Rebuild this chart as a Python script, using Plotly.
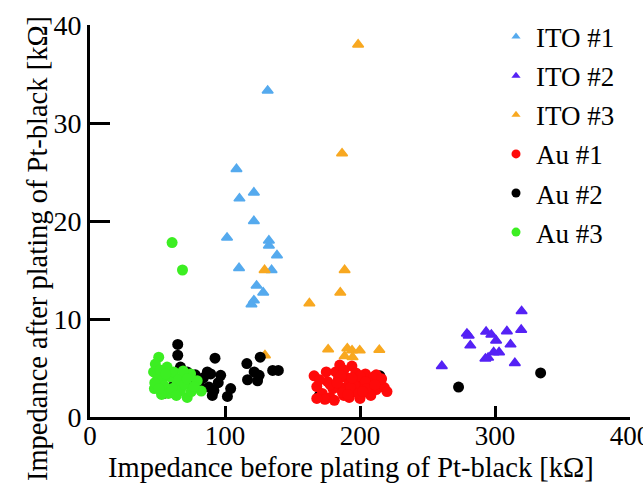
import plotly.graph_objects as go

# ---- data ----
ito1_x = [131.6, 108.5, 121.4, 110.7, 121.4, 101.5, 132.5, 132.5, 138.5, 110.4, 134.5, 123.4, 128.3, 121.4, 119.6]
ito1_y = [33.3, 25.3, 22.9, 22.3, 20.0, 18.3, 18.0, 17.5, 16.5, 15.2, 15.0, 13.4, 12.7, 11.9, 11.5]

ito2_x = [319.7, 280.5, 281.7, 279.2, 293.4, 297.3, 300.8, 308.8, 319.4, 311.5, 299.0, 303.0, 294.9, 292.9, 314.7, 260.6]
ito2_y = [10.8, 8.3, 7.3, 8.5, 8.7, 8.4, 7.8, 8.75, 8.9, 7.4, 6.6, 6.6, 6.05, 5.95, 5.5, 5.2]

ito3_x = [198.6, 186.7, 188.6, 185.4, 162.5, 129.3, 129.6, 176.4, 190.6, 194.1, 199.8, 214.3, 188.6, 194.5]
ito3_y = [38.0, 26.9, 15.0, 12.7, 11.6, 15.0, 6.3, 6.9, 7.0, 6.8, 6.8, 6.85, 6.2, 6.1]

au1_x = [166, 168, 172, 176, 178, 182, 185, 186, 188, 190, 192, 194, 196, 197, 198, 200, 202, 204, 206, 208,
         210, 212, 215, 218, 220, 170, 174, 180, 184, 188, 192, 196, 200, 204, 208, 212, 216, 175, 181, 187,
         193, 199, 205, 211, 178, 186, 194, 202, 168, 183, 191]
au1_y = [4.2, 3.1, 2.4, 3.6, 2.0, 4.6, 5.3, 3.0, 2.2, 4.0, 3.4, 5.2, 2.6, 4.5, 3.8, 1.9, 3.1, 4.4, 2.5, 3.6,
         4.1, 2.8, 3.5, 3.0, 2.6, 3.8, 1.8, 2.9, 3.9, 4.8, 2.0, 3.2, 4.2, 3.6, 2.2, 4.3, 3.9, 4.6, 1.7, 2.5,
         3.0, 2.4, 2.9, 3.3, 3.3, 4.2, 4.0, 2.6, 1.9, 3.5, 2.3]

au2_x = [65, 65, 92.6, 126.1, 116.2, 135.3, 139.5, 121.6, 116.7, 124.1, 125.3, 104.2, 101.8, 89.4, 96.8,
         86.9, 91.8, 88.1, 90.6, 54.6, 72, 76.9, 67, 81.9, 60, 84, 62, 78, 95, 170, 214.7, 273, 333.8]
au2_y = [7.4, 6.3, 6.0, 6.1, 5.45, 4.75, 4.75, 4.6, 3.8, 3.7, 4.25, 2.9, 2.1, 4.4, 4.25,
         4.6, 2.7, 3.05, 2.2, 2.4, 4.6, 3.6, 5.1, 3.05, 2.5, 4.0, 3.2, 4.3, 3.5, 2.2, 4.2, 3.05, 4.5]

au3_x = [60.8, 68.5, 50.9, 48.4, 47.1, 47.7, 54.6, 64.5, 72, 79.4, 82.4, 67, 59.6, 74.5, 57.1, 50, 52, 55,
         58, 62, 66, 70, 75, 69, 48, 53, 61, 77, 72, 64, 56, 51]
au3_y = [17.8, 15.0, 6.1, 5.4, 4.6, 2.9, 4.1, 3.4, 2.0, 3.7, 2.65, 2.7, 4.1, 4.4, 5.1, 3.8, 4.8, 3.2,
         2.4, 4.6, 3.9, 3.3, 2.6, 4.7, 3.5, 2.3, 2.9, 3.1, 3.9, 2.2, 4.4, 2.9]

series = [
    ("ITO #1", ito1_x, ito1_y, "triangle-up", "#55AAEE"),
    ("ITO #2", ito2_x, ito2_y, "triangle-up", "#5522F5"),
    ("ITO #3", ito3_x, ito3_y, "triangle-up", "#F8A820"),
    ("Au #1", au1_x, au1_y, "circle", "#FF0A0A"),
    ("Au #2", au2_x, au2_y, "circle", "#000000"),
    ("Au #3", au3_x, au3_y, "circle", "#3CEE22"),
]

x_ticks = [0, 100, 200, 300, 400]
y_ticks = [0, 10, 20, 30, 40]
x_title = "Impedance before plating of Pt-black [kΩ]"
y_title = "Impedance after plating of Pt-black [kΩ]"

FONT = "Liberation Serif, Times New Roman, serif"

fig = go.Figure()
# drawing order: later traces on top
draw_order = ["ITO #1", "ITO #2", "ITO #3", "Au #2", "Au #1", "Au #3"]
lookup = {s[0]: s for s in series}
for name in draw_order:
    n, xs, ys, sym, col = lookup[name]
    if sym == "circle":
        mk = dict(symbol=sym, size=11, color=col, line=dict(width=0))
    else:
        mk = dict(symbol=sym, size=9.5, color=col, line=dict(width=1.5, color=col))
    fig.add_trace(go.Scatter(x=xs, y=ys, mode="markers", name=n, marker=mk,
                             showlegend=False, legendgroup=n, cliponaxis=False))

# legend entries (smaller symbols, as in the reference)
for n, xs, ys, sym, col in series:
    size = 9 if sym == "circle" else 8
    fig.add_trace(go.Scatter(x=[None], y=[None], mode="markers", name=n,
                             marker=dict(symbol=sym, size=size, color=col),
                             showlegend=True, legendgroup=n))

fig.update_layout(
    width=643, height=483,
    margin=dict(l=90, r=13, t=25, b=66, autoexpand=False),
    plot_bgcolor="white", paper_bgcolor="white",
    font=dict(family=FONT, size=28, color="black"),
    showlegend=True,
    legend=dict(xref="container", yref="container", x=0.7714, y=0.974,
                xanchor="left", yanchor="top", maxheight=470,
                font=dict(family=FONT, size=27, color="black"),
                bgcolor="rgba(0,0,0,0)", tracegroupgap=1,
                itemsizing="trace"),
    xaxis=dict(range=[0, 400], tickvals=x_ticks, ticktext=[str(v) for v in x_ticks],
               showgrid=False, zeroline=False, showline=True, linewidth=3, linecolor="black",
               ticks="inside", ticklen=11, tickwidth=3, tickcolor="black", automargin=False,
               tickfont=dict(family=FONT, size=27), ticklabeloverflow="allow",
               ticklabelstandoff=-7),
    yaxis=dict(range=[0, 40], tickvals=y_ticks, ticktext=[str(v) for v in y_ticks],
               showgrid=False, zeroline=False, showline=True, linewidth=3, linecolor="black",
               ticks="inside", ticklen=20, tickwidth=3, tickcolor="black", automargin=False,
               tickfont=dict(family=FONT, size=28), ticklabeloverflow="allow"),
    annotations=[
        dict(text=x_title, xref="paper", yref="paper", x=0.484, y=-0.128,
             xanchor="center", yanchor="middle", showarrow=False,
             font=dict(family=FONT, size=28.5, color="black")),
        dict(text=y_title, xref="paper", yref="paper", x=-0.097, y=0.43,
             xanchor="center", yanchor="middle", showarrow=False, textangle=-90,
             font=dict(family=FONT, size=28.5, color="black")),
    ],
)

fig.write_html("out.html",
               config={"displayModeBar": False},
               post_script=("document.body.style.margin='0px';"
                            "document.body.style.overflow='hidden';"
                            "document.documentElement.style.overflow='hidden';"))
